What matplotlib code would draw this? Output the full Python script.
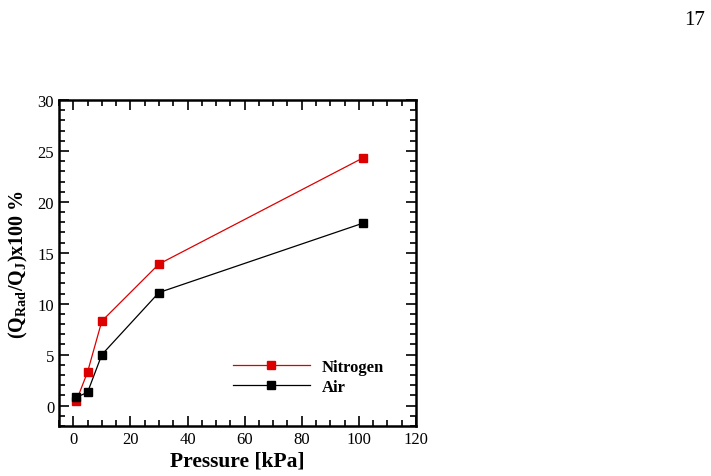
import numpy as np
import matplotlib.pyplot as plt
from matplotlib.ticker import MultipleLocator

# data
pressure = [1.0, 5.0, 10.0, 30.0, 101.3]
nitrogen = [0.4, 3.3, 8.3, 13.9, 24.3]
air = [0.8, 1.3, 5.0, 11.1, 17.9]

plt.rcParams['font.family'] = ['Liberation Serif', 'DejaVu Serif']
plt.rcParams['mathtext.fontset'] = 'custom'
plt.rcParams['mathtext.rm'] = 'Liberation Serif'
plt.rcParams['mathtext.bf'] = 'Liberation Serif:bold'
plt.rcParams['mathtext.it'] = 'Liberation Serif:italic'


def main():
    fig = plt.figure(figsize=(7.11, 4.77), dpi=100)
    ax = fig.add_axes([0.083, 0.105, 0.502, 0.683])

    ax.plot(pressure, nitrogen, color='#dd0000', lw=0.9, marker='s',
            ms=6, label='Nitrogen')
    ax.plot(pressure, air, color='black', lw=0.9, marker='s',
            ms=6, label='Air')

    ax.set_xlim(-5, 120)
    ax.set_ylim(-2, 30)
    ax.xaxis.set_major_locator(MultipleLocator(20))
    ax.xaxis.set_minor_locator(MultipleLocator(5))
    ax.yaxis.set_major_locator(MultipleLocator(5))
    ax.yaxis.set_minor_locator(MultipleLocator(1))
    ax.tick_params(which='both', direction='in', top=True, right=True,
                   labelsize=12, width=1.2)
    ax.tick_params(which='major', length=7)
    ax.tick_params(which='minor', length=4)
    for s in ax.spines.values():
        s.set_linewidth(1.8)

    ax.set_xlabel('Pressure [kPa]', fontsize=15.5, fontweight='bold', labelpad=3)
    ax.set_ylabel(r'$\mathbf{(Q_{Rad}/Q_{J})x100\ \%}$', fontsize=14.5,
                  labelpad=5)

    ax.legend(loc='center left', bbox_to_anchor=(233 / 711, 99 / 477),
              bbox_transform=fig.transFigure, borderpad=0, borderaxespad=0,
              frameon=False, handlelength=4.6, handletextpad=0.72,
              labelspacing=0.25,
              prop={'weight': 'bold', 'size': 12})

    fig.text(0.991, 0.958, '17', fontsize=15, ha='right', va='center')

    fig.savefig('out.png', dpi=100)


if __name__ == "__main__":
    main()
